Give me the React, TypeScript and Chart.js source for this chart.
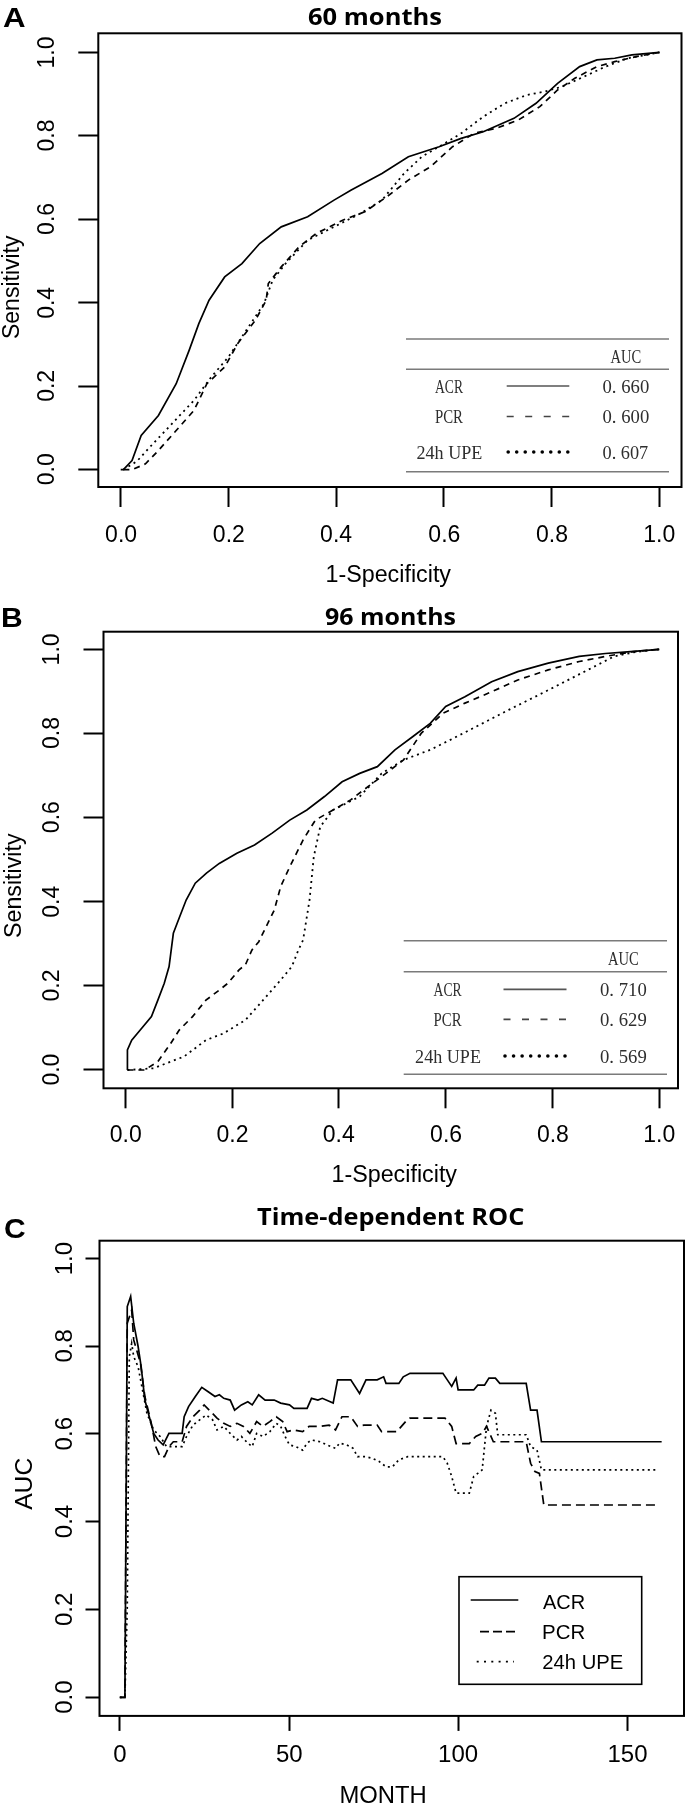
import React, { useEffect, useRef } from "react";
import { Chart, registerables } from "chart.js";

Chart.register(...registerables);

// ---------- tick values / labels ----------
const rocTicks = [0, 0.2, 0.4, 0.6, 0.8, 1.0];
const rocTickLabels = ["0.0", "0.2", "0.4", "0.6", "0.8", "1.0"];
const monthTicks = [0, 50, 100, 150];
const monthTickLabels = ["0", "50", "100", "150"];
const aucTicks = [0, 0.2, 0.4, 0.6, 0.8, 1.0];
const aucTickLabels = ["0.0", "0.2", "0.4", "0.6", "0.8", "1.0"];

// ---------- legend / table content ----------
const markerNames = ["ACR", "PCR", "24h UPE"];
const auc60 = ["0. 660", "0. 600", "0. 607"];
const auc96 = ["0. 710", "0. 629", "0. 569"];

// ---------- Panel A: 60 months ROC ----------
const a60AcrFpr = [0, 0.005, 0.021, 0.038, 0.07, 0.103, 0.127, 0.145, 0.164, 0.193, 0.225, 0.258, 0.298, 0.347, 0.396, 0.428, 0.485, 0.534, 0.591, 0.632, 0.673, 0.73, 0.771, 0.811, 0.852, 0.884, 0.917, 0.949, 1.0];
const a60AcrTpr = [0, 0, 0.022, 0.082, 0.13, 0.206, 0.286, 0.35, 0.406, 0.462, 0.494, 0.542, 0.582, 0.606, 0.646, 0.67, 0.71, 0.75, 0.774, 0.794, 0.81, 0.842, 0.878, 0.926, 0.966, 0.982, 0.986, 0.994, 1.0];
const a60PcrFpr = [0.005, 0.021, 0.046, 0.07, 0.103, 0.136, 0.16, 0.193, 0.217, 0.25, 0.27, 0.274, 0.298, 0.331, 0.363, 0.412, 0.453, 0.494, 0.534, 0.575, 0.616, 0.656, 0.697, 0.738, 0.778, 0.811, 0.843, 0.884, 0.917, 0.957, 1.0];
const a60PcrTpr = [0, 0, 0.014, 0.046, 0.094, 0.142, 0.206, 0.246, 0.302, 0.358, 0.406, 0.446, 0.486, 0.534, 0.566, 0.598, 0.618, 0.654, 0.694, 0.726, 0.774, 0.806, 0.818, 0.838, 0.87, 0.91, 0.938, 0.966, 0.978, 0.99, 1.0];
const a60UpeFpr = [0.005, 0.03, 0.054, 0.095, 0.136, 0.168, 0.2, 0.233, 0.266, 0.282, 0.306, 0.347, 0.396, 0.445, 0.485, 0.526, 0.559, 0.591, 0.632, 0.673, 0.713, 0.754, 0.787, 0.819, 0.86, 0.9, 0.941, 1.0];
const a60UpeTpr = [0, 0.02, 0.054, 0.11, 0.166, 0.222, 0.27, 0.334, 0.398, 0.454, 0.494, 0.55, 0.582, 0.614, 0.646, 0.71, 0.75, 0.774, 0.806, 0.846, 0.878, 0.898, 0.906, 0.918, 0.942, 0.966, 0.986, 1.0];

// ---------- Panel B: 96 months ROC ----------
const b96AcrFpr = [0.004, 0.004, 0.012, 0.028, 0.049, 0.061, 0.073, 0.082, 0.09, 0.102, 0.114, 0.131, 0.152, 0.176, 0.209, 0.242, 0.275, 0.308, 0.34, 0.373, 0.406, 0.439, 0.472, 0.505, 0.538, 0.571, 0.6, 0.636, 0.686, 0.735, 0.792, 0.85, 0.899, 0.94, 1.0];
const b96AcrTpr = [0, 0.048, 0.071, 0.095, 0.127, 0.166, 0.206, 0.246, 0.325, 0.365, 0.404, 0.444, 0.468, 0.491, 0.515, 0.535, 0.563, 0.594, 0.618, 0.65, 0.685, 0.705, 0.721, 0.761, 0.792, 0.824, 0.864, 0.887, 0.923, 0.947, 0.967, 0.983, 0.99, 0.994, 1.0];
const b96PcrFpr = [0.004, 0.036, 0.061, 0.085, 0.101, 0.126, 0.151, 0.176, 0.192, 0.213, 0.225, 0.237, 0.25, 0.279, 0.291, 0.308, 0.333, 0.356, 0.389, 0.422, 0.455, 0.488, 0.521, 0.554, 0.595, 0.636, 0.686, 0.735, 0.792, 0.85, 0.899, 0.948, 1.0];
const b96PcrTpr = [0, 0, 0.02, 0.063, 0.095, 0.127, 0.166, 0.19, 0.206, 0.238, 0.25, 0.285, 0.305, 0.38, 0.436, 0.483, 0.547, 0.594, 0.618, 0.642, 0.674, 0.705, 0.737, 0.8, 0.848, 0.872, 0.899, 0.927, 0.951, 0.971, 0.983, 0.994, 1.0];
const b96UpeFpr = [0.004, 0.053, 0.077, 0.11, 0.151, 0.184, 0.225, 0.258, 0.291, 0.312, 0.324, 0.333, 0.345, 0.353, 0.365, 0.389, 0.439, 0.48, 0.521, 0.571, 0.62, 0.669, 0.718, 0.767, 0.817, 0.866, 0.915, 0.957, 1.0];
const b96UpeTpr = [0, 0.004, 0.016, 0.032, 0.071, 0.087, 0.119, 0.166, 0.214, 0.246, 0.285, 0.309, 0.404, 0.507, 0.578, 0.618, 0.65, 0.705, 0.737, 0.761, 0.792, 0.824, 0.856, 0.887, 0.919, 0.951, 0.983, 0.994, 1.0];

// ---------- Panel C: time-dependent AUC ----------
const cAcrMonth = [0, 1.5, 2.2, 3.2, 4.1, 5.4, 6.3, 7.4, 8.7, 10, 11.3, 12.8, 14.5, 18.4, 19, 20.3, 22.3, 24.2, 26.1, 28.1, 29.4, 30.7, 32.6, 33.9, 35.9, 37.8, 39.1, 41, 42.9, 45.6, 47.5, 50.1, 51.4, 55.3, 56.6, 58.5, 59.8, 63, 64.3, 68.2, 70.8, 72.7, 76, 77.9, 78.6, 82.4, 83.7, 85.7, 95.4, 96.7, 98, 99.3, 99.9, 104.5, 105.7, 107.7, 109, 110.9, 112.2, 120, 121.3, 123.2, 124.5, 160];
const cAcrAuc = [0, 0, 0.89, 0.913, 0.852, 0.799, 0.753, 0.677, 0.639, 0.601, 0.586, 0.575, 0.601, 0.601, 0.639, 0.662, 0.685, 0.706, 0.696, 0.685, 0.689, 0.681, 0.677, 0.654, 0.666, 0.673, 0.666, 0.689, 0.677, 0.677, 0.67, 0.666, 0.658, 0.658, 0.681, 0.677, 0.681, 0.67, 0.723, 0.723, 0.692, 0.723, 0.723, 0.73, 0.715, 0.715, 0.73, 0.738, 0.738, 0.723, 0.708, 0.727, 0.7, 0.7, 0.711, 0.711, 0.727, 0.727, 0.715, 0.715, 0.654, 0.654, 0.582, 0.582];
const cPcrMonth = [0, 1.5, 2.2, 3.5, 4.1, 6.1, 7.4, 9.3, 10.6, 11.9, 13.2, 14.5, 15.8, 18.4, 19.7, 21.6, 23.6, 24.9, 26.8, 28.7, 30.7, 32.6, 34.6, 36.5, 38.4, 40.4, 42.3, 44.3, 46.2, 48.1, 49.4, 51.4, 54, 55.9, 59.2, 61.8, 63.7, 65.6, 68.2, 70.2, 72.1, 76, 77.3, 81.8, 84.4, 85.7, 96, 98, 99.3, 103.2, 105.1, 107, 108.3, 110.3, 120, 121.3, 122.6, 123.9, 125.2, 158.5];
const cPcrAuc = [0, 0, 0.852, 0.882, 0.814, 0.761, 0.685, 0.624, 0.571, 0.548, 0.548, 0.571, 0.582, 0.582, 0.617, 0.639, 0.654, 0.666, 0.651, 0.636, 0.624, 0.617, 0.624, 0.617, 0.601, 0.628, 0.617, 0.628, 0.639, 0.628, 0.605, 0.609, 0.605, 0.617, 0.617, 0.62, 0.609, 0.639, 0.639, 0.617, 0.62, 0.62, 0.605, 0.605, 0.628, 0.636, 0.636, 0.617, 0.578, 0.578, 0.594, 0.601, 0.617, 0.582, 0.582, 0.533, 0.514, 0.51, 0.438, 0.438];
const cUpeMonth = [0, 1.5, 2.2, 2.8, 3.5, 4.1, 5.4, 6.7, 8, 10, 11.9, 13.8, 18.4, 19.7, 21.6, 23.6, 25.5, 27.4, 28.7, 30.7, 32.6, 34.6, 35.9, 37.8, 39.1, 40.4, 42.3, 44.3, 46.2, 47.5, 48.8, 50.1, 52, 54, 55.3, 56.6, 59.2, 61.1, 63.7, 64.9, 67, 68.9, 70.2, 72.7, 74.7, 76.6, 78.6, 80.5, 82.4, 85, 95.4, 96.7, 98, 99.3, 103.2, 104.5, 105.7, 107, 108.3, 109.6, 110.9, 111.6, 120, 121.3, 123.2, 124.5, 158.5];
const cUpeAuc = [0, 0, 0.207, 0.776, 0.806, 0.776, 0.753, 0.7, 0.647, 0.609, 0.594, 0.571, 0.571, 0.594, 0.62, 0.632, 0.643, 0.632, 0.609, 0.617, 0.601, 0.586, 0.594, 0.579, 0.571, 0.601, 0.594, 0.605, 0.624, 0.617, 0.594, 0.575, 0.571, 0.563, 0.579, 0.586, 0.582, 0.575, 0.567, 0.579, 0.575, 0.567, 0.548, 0.548, 0.544, 0.537, 0.525, 0.525, 0.541, 0.548, 0.548, 0.533, 0.503, 0.465, 0.465, 0.503, 0.51, 0.518, 0.617, 0.654, 0.647, 0.598, 0.598, 0.571, 0.563, 0.518, 0.518];

// ---------- drawing helpers ----------
const W = 688;
const SANS = '"Liberation Sans", Arial, sans-serif';
const SERIF = '"Liberation Serif", "Times New Roman", serif';
const TITLE = '"Open Sans", "Noto Sans", sans-serif';

type Opt = { w?: number; rot?: number; color?: string };

function inkText(ctx: CanvasRenderingContext2D, text: string, cx: number, cy: number, font: string, opt: Opt = {}) {
  ctx.save();
  ctx.font = font;
  ctx.fillStyle = opt.color ?? "#000";
  ctx.textAlign = "left";
  ctx.textBaseline = "alphabetic";
  const m = ctx.measureText(text);
  const iw = m.actualBoundingBoxLeft + m.actualBoundingBoxRight;
  const ih = m.actualBoundingBoxAscent + m.actualBoundingBoxDescent;
  ctx.translate(cx, cy);
  if (opt.rot) ctx.rotate(opt.rot);
  const sx = opt.w ? opt.w / iw : 1;
  ctx.scale(sx, 1);
  ctx.fillText(text, -iw / 2 + m.actualBoundingBoxLeft, -ih / 2 + m.actualBoundingBoxAscent);
  ctx.restore();
}

function hline(ctx: CanvasRenderingContext2D, x0: number, x1: number, y: number, color: string, width: number, dash: number[] = []) {
  ctx.save();
  ctx.strokeStyle = color;
  ctx.lineWidth = width;
  ctx.setLineDash(dash);
  ctx.beginPath();
  ctx.moveTo(x0, y);
  ctx.lineTo(x1, y);
  ctx.stroke();
  ctx.restore();
}

function dots(ctx: CanvasRenderingContext2D, x0: number, x1: number, y: number, n: number, r: number) {
  ctx.save();
  ctx.fillStyle = "#000";
  for (let i = 0; i < n; i++) {
    const x = x0 + ((x1 - x0) * i) / (n - 1);
    ctx.beginPath();
    ctx.arc(x, y, r, 0, Math.PI * 2);
    ctx.fill();
  }
  ctx.restore();
}

type TableGeo = {
  x0: number; x1: number; lines: number[]; aucY: number; rows: number[];
  labelX: number; s0: number; s1: number; valueX: number; values: string[];
};

function drawRocTable(ctx: CanvasRenderingContext2D, t: TableGeo) {
  const grey = "#7a7a7a";
  t.lines.forEach((y) => hline(ctx, t.x0, t.x1, y, grey, 1.6));
  const tf = `19.5px ${SERIF}`;
  const tc = "#2e2e2e";
  inkText(ctx, "AUC", t.valueX, t.aucY, tf, { w: 30, color: tc });
  const labelW = [28, 28, 65];
  markerNames.forEach((name, i) => {
    inkText(ctx, name, t.labelX, t.rows[i], tf, { w: labelW[i], color: tc });
    inkText(ctx, t.values[i], t.valueX, t.rows[i], tf, { w: 46, color: tc });
  });
  hline(ctx, t.s0, t.s1, t.rows[0], "#555", 1.7);
  hline(ctx, t.s0, t.s1, t.rows[1], "#444", 1.7, [7, 11.5]);
  dots(ctx, t.s0 + 1.5, t.s1 - 1.5, t.rows[2], 8, 1.8);
}

type Series = { x: number[]; y: number[]; dash: number[]; width: number };
type PanelCfg = {
  top: number; height: number;
  area: { left: number; top: number; right: number; bottom: number };
  xMin: number; xMax: number; yMin: number; yMax: number;
  xTicks: number[]; xLabels: string[]; yTicks: number[]; yLabels: string[];
  xTickLen: number; yTickLen: number;
  tickFont: string; xLabelY: number; yLabelX: number;
  series: Series[];
  decorate: (ctx: CanvasRenderingContext2D) => void;
};

function Panel({ cfg }: { cfg: PanelCfg }) {
  const ref = useRef<HTMLCanvasElement | null>(null);
  useEffect(() => {
    const canvas = ref.current;
    if (!canvas) return;
    const a = cfg.area;
    const decor = {
      id: "decor",
      afterDraw(chart: any) {
        const ctx: CanvasRenderingContext2D = chart.ctx;
        const ca = chart.chartArea;
        ctx.save();
        ctx.strokeStyle = "#000";
        ctx.lineWidth = 2;
        ctx.strokeRect(ca.left, ca.top, ca.right - ca.left, ca.bottom - ca.top);
        ctx.restore();
        const xs = chart.scales.x;
        const ys = chart.scales.y;
        cfg.xTicks.forEach((v, i) => {
          inkText(ctx, cfg.xLabels[i], xs.getPixelForValue(v), cfg.xLabelY, cfg.tickFont);
        });
        cfg.yTicks.forEach((v, i) => {
          inkText(ctx, cfg.yLabels[i], cfg.yLabelX, ys.getPixelForValue(v), cfg.tickFont, { rot: -Math.PI / 2 });
        });
        cfg.decorate(ctx);
      },
    };
    const chart = new Chart(canvas, {
      type: "line",
      data: {
        datasets: cfg.series.map((s) => ({
          data: s.x.map((x, i) => ({ x, y: s.y[i] })),
          borderColor: "#000",
          borderWidth: s.width,
          borderDash: s.dash,
          pointRadius: 0,
          fill: false,
          tension: 0,
        })),
      },
      options: {
        responsive: false,
        animation: false,
        devicePixelRatio: 1,
        events: [],
        layout: {
          padding: {
            left: a.left - cfg.yTickLen,
            top: a.top,
            right: W - a.right,
            bottom: cfg.height - a.bottom - cfg.xTickLen,
          },
        },
        plugins: { legend: { display: false }, tooltip: { enabled: false } },
        scales: {
          x: {
            type: "linear",
            min: cfg.xMin,
            max: cfg.xMax,
            afterBuildTicks: (s: any) => { s.ticks = cfg.xTicks.map((v) => ({ value: v })); },
            afterFit: (s: any) => { s.height = cfg.xTickLen; },
            ticks: { display: false },
            grid: { drawOnChartArea: false, drawTicks: true, tickLength: cfg.xTickLen, tickColor: "#000", tickWidth: 2 },
            border: { display: false },
          },
          y: {
            type: "linear",
            min: cfg.yMin,
            max: cfg.yMax,
            afterBuildTicks: (s: any) => { s.ticks = cfg.yTicks.map((v) => ({ value: v })); },
            afterFit: (s: any) => { s.width = cfg.yTickLen; },
            ticks: { display: false },
            grid: { drawOnChartArea: false, drawTicks: true, tickLength: cfg.yTickLen, tickColor: "#000", tickWidth: 2 },
            border: { display: false },
          },
        },
      },
      plugins: [decor],
    } as any);
    return () => chart.destroy();
  }, [cfg]);
  return (
    <canvas
      ref={ref}
      width={W}
      height={cfg.height}
      style={{ position: "absolute", left: 0, top: cfg.top, width: W, height: cfg.height }}
    />
  );
}

// ---------- panel configurations ----------
const rocDash = { acr: [] as number[], pcr: [6, 5], upe: [2, 4] };

const panelA: PanelCfg = {
  top: 0, height: 600,
  area: { left: 98.3, top: 33.3, right: 681.5, bottom: 487 },
  xMin: -0.0416, xMax: 1.041, yMin: -0.0415, yMax: 1.0458,
  xTicks: rocTicks, xLabels: rocTickLabels, yTicks: rocTicks, yLabels: rocTickLabels,
  xTickLen: 20, yTickLen: 20,
  tickFont: `23px ${SANS}`, xLabelY: 533.5, yLabelX: 45,
  series: [
    { x: a60AcrFpr, y: a60AcrTpr, dash: rocDash.acr, width: 1.7 },
    { x: a60PcrFpr, y: a60PcrTpr, dash: rocDash.pcr, width: 1.7 },
    { x: a60UpeFpr, y: a60UpeTpr, dash: rocDash.upe, width: 1.8 },
  ],
  decorate: (ctx) => {
    inkText(ctx, "A", 14, 17.5, `bold 27px ${SANS}`, { w: 22 });
    inkText(ctx, "60 months", 375, 15.5, `bold 24px ${TITLE}`, { w: 134 });
    inkText(ctx, "Sensitivity", 12, 286.5, `23px ${SANS}`, { w: 103, rot: -Math.PI / 2 });
    inkText(ctx, "1-Specificity", 389, 575, `23px ${SANS}`, { w: 125 });
    drawRocTable(ctx, {
      x0: 406, x1: 669, lines: [339, 369.3, 471.7], aucY: 356, rows: [386, 416.5, 452],
      labelX: 449, s0: 506.7, s1: 569.3, valueX: 625.5, values: auc60,
    });
  },
};

const panelB: PanelCfg = {
  top: 600, height: 600,
  area: { left: 103.5, top: 31.7, right: 678, bottom: 488.3 },
  xMin: -0.0408, xMax: 1.035, yMin: -0.0435, yMax: 1.0418,
  xTicks: rocTicks, xLabels: rocTickLabels, yTicks: rocTicks, yLabels: rocTickLabels,
  xTickLen: 20, yTickLen: 20,
  tickFont: `23px ${SANS}`, xLabelY: 533.3, yLabelX: 50,
  series: [
    { x: b96AcrFpr, y: b96AcrTpr, dash: rocDash.acr, width: 1.7 },
    { x: b96PcrFpr, y: b96PcrTpr, dash: rocDash.pcr, width: 1.7 },
    { x: b96UpeFpr, y: b96UpeTpr, dash: rocDash.upe, width: 1.8 },
  ],
  decorate: (ctx) => {
    inkText(ctx, "B", 12, 17.5, `bold 27px ${SANS}`, { w: 20 });
    inkText(ctx, "96 months", 390.5, 15.5, `bold 24px ${TITLE}`, { w: 131 });
    inkText(ctx, "Sensitivity", 14, 285, `23px ${SANS}`, { w: 104, rot: -Math.PI / 2 });
    inkText(ctx, "1-Specificity", 395, 575, `23px ${SANS}`, { w: 125 });
    drawRocTable(ctx, {
      x0: 403.7, x1: 667, lines: [340.7, 371.7, 474.3], aucY: 358.3, rows: [389.3, 419.3, 456],
      labelX: 447.6, s0: 503.5, s1: 566.5, valueX: 623, values: auc96,
    });
  },
};

const panelC: PanelCfg = {
  top: 1200, height: 606,
  area: { left: 99.5, top: 40.7, right: 684, bottom: 515.9 },
  xMin: -6.0, xMax: 166.6, yMin: -0.0424, yMax: 1.04,
  xTicks: monthTicks, xLabels: monthTickLabels, yTicks: aucTicks, yLabels: aucTickLabels,
  xTickLen: 15, yTickLen: 14,
  tickFont: `24px ${SANS}`, xLabelY: 553.3, yLabelX: 63.5,
  series: [
    { x: cAcrMonth, y: cAcrAuc, dash: [], width: 1.7 },
    { x: cPcrMonth, y: cPcrAuc, dash: [9, 5], width: 1.7 },
    { x: cUpeMonth, y: cUpeAuc, dash: [2, 3.5], width: 1.7 },
  ],
  decorate: (ctx) => {
    inkText(ctx, "C", 15, 28.3, `bold 27px ${SANS}`, { w: 20 });
    inkText(ctx, "Time-dependent ROC", 390.5, 18.5, `bold 24px ${TITLE}`, { w: 267 });
    inkText(ctx, "AUC", 23, 284, `24px ${SANS}`, { w: 51.7, rot: -Math.PI / 2 });
    inkText(ctx, "MONTH", 383, 594, `24px ${SANS}`, { w: 85 });
    // legend box
    ctx.save();
    ctx.strokeStyle = "#000";
    ctx.lineWidth = 1.6;
    ctx.strokeRect(459, 376.7, 641.7 - 459, 484.3 - 376.7);
    ctx.restore();
    hline(ctx, 470.7, 518.3, 400, "#000", 1.7);
    hline(ctx, 480, 515, 431.7, "#000", 1.7, [9, 4]);
    hline(ctx, 476.7, 514, 461.7, "#000", 1.7, [2, 5.3]);
    const lf = `21px ${SANS}`;
    inkText(ctx, markerNames[0], 564, 401.7, lf, { w: 42 });
    inkText(ctx, markerNames[1], 564, 431.7, lf, { w: 42 });
    inkText(ctx, markerNames[2], 583.3, 461.7, lf, { w: 80 });
  },
};

export default function App() {
  return (
    <div style={{ position: "absolute", left: 0, top: 0, width: W, height: 1806, background: "#fff" }}>
      <Panel cfg={panelA} />
      <Panel cfg={panelB} />
      <Panel cfg={panelC} />
    </div>
  );
}
